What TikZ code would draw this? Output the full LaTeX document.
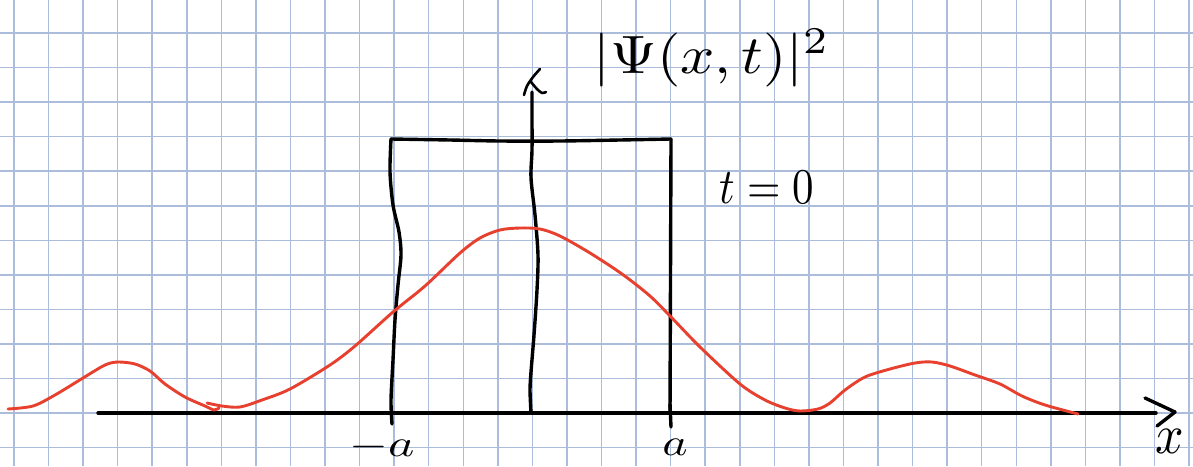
\documentclass[tikz,border=0pt]{standalone}
\usepackage{graphicx}
\begin{document}
\begin{tikzpicture}[x=1pt,y=-1pt,
  gridline/.style={draw=gridblue,line width=1.5pt},
  ink/.style={draw=black,line width=3.4pt,line cap=round,line join=round},
  redink/.style={draw=curvered,line width=2.9pt,line cap=round,line join=round},
  hand/.style={inner sep=0pt,text=black}]
\definecolor{gridblue}{HTML}{ABBDDA}
\definecolor{curvered}{HTML}{E8402E}
\useasboundingbox[fill=white] (0,0) rectangle (1193,466);
% grid
\foreach \i in {0,...,34} \draw[gridline] ({14+34.56*\i},0) -- ({14+34.56*\i},466);
\foreach \j in {0,...,12} \draw[gridline] (0,{33+34.56*\j}) -- (1193,{33+34.56*\j});
% coordinates
\coordinate (xs) at (98,413);
\coordinate (xe) at (1156,413);
\coordinate (tip) at (1175,412);
\coordinate (chu) at (1145,398);
\coordinate (chl) at (1157,426);
% x axis
\draw[ink] (xs) -- (xe);
\draw[ink] (chu) -- (tip) -- (chl);
% vertical axis
\draw[ink] plot[smooth] coordinates {(531,413) (530,390) (531,372) (534,335) (537,290) (538,255) (535,215) (531,178) (532,150) (532,115) (532,92)};
\draw[ink,line width=2.6pt] plot[smooth] coordinates {(524,95) (527,86) (533,77) (540,69)};
\draw[ink,line width=2.6pt] plot[smooth] coordinates {(531,82) (537,89) (542,93) (546,92)};
% box
\draw[ink] plot[smooth] coordinates {(391,139) (450,140) (500,141) (560,141) (620,140) (671,139)};
\draw[ink] plot[smooth] coordinates {(391,139) (390,172) (393,205) (399,232) (401,255) (398,285) (395,320) (393,360) (391,400) (392,424)};
\draw[ink] (671,139) -- (670,413);
\draw[ink] (670,404) -- (671,427);
% red curve
\draw[redink] plot[smooth] coordinates {(8,409) (33,406) (55,395) (83,378) (105,365) (118,362) (135,364) (150,371) (165,384) (185,397) (205,406) (214,410) (219,408)};
\draw[redink] plot[smooth] coordinates {(207,403) (222,406) (240,407) (262,400) (290,389) (330,365) (355,346) (393,312) (425,286) (460,253) (480,238) (500,230) (520,228) (540,229) (560,236) (590,253) (622,274) (650,296) (672,318) (700,347) (740,384) (765,400) (785,408) (800,411) (818,409) (830,403) (845,390) (865,377) (890,369) (915,363) (932,362) (950,366) (975,375) (1000,384) (1022,396) (1045,405) (1078,414)};
% labels
\node[hand] (psi) at (712,58) {\scalebox{6}[5.4]{$|\Psi(x,t)|^{2}$}};
\node[hand] (t0) at (767,187) {\scalebox{4.3}[5]{$t=0$}};
\node[hand] (ma) at (382,447) {\scalebox{5}[3.8]{$-a$}};
\node[hand] (pa) at (675,447) {\scalebox{4.8}[3.8]{$a$}};
\node[hand] (xl) at (1170,441) {\scalebox{5}[5.6]{$x$}};
\end{tikzpicture}
\end{document}
